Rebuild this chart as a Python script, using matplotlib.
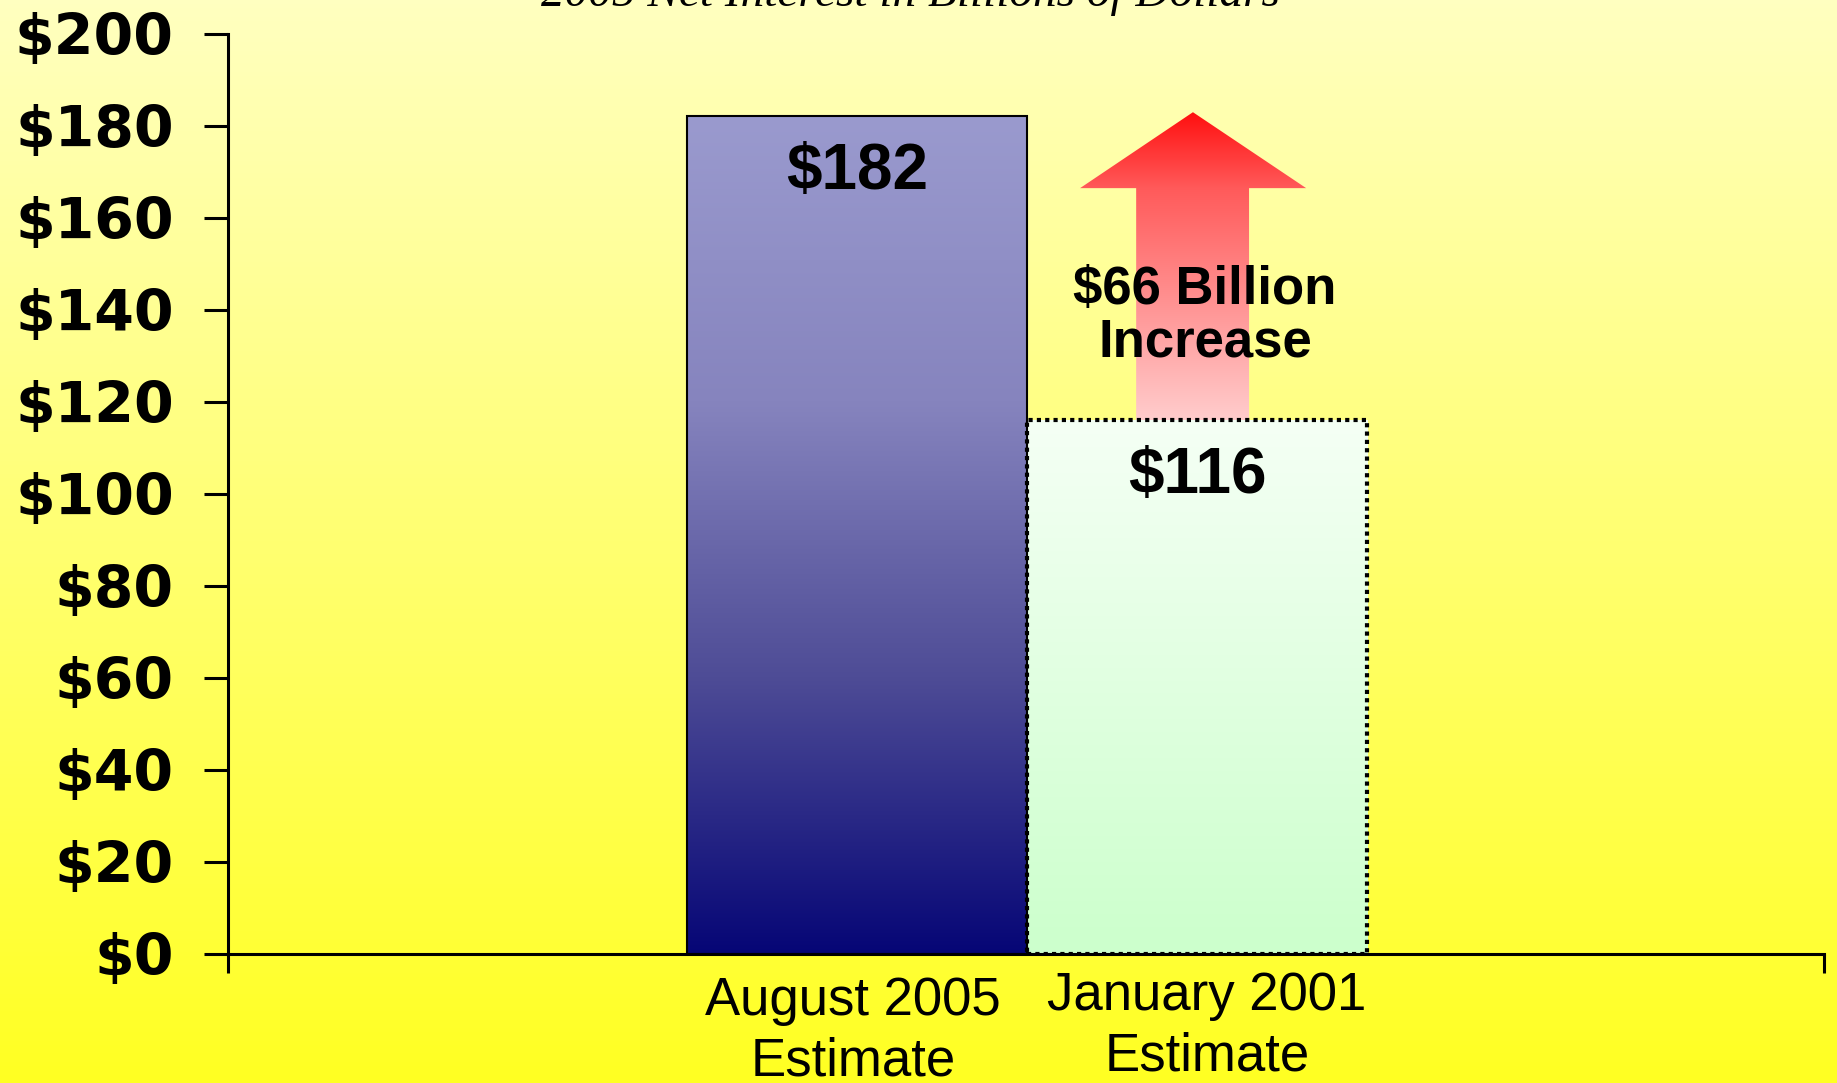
import numpy as np
import matplotlib
matplotlib.use("Agg")
import matplotlib.pyplot as plt
from matplotlib.patches import Rectangle, Polygon

# ── Data ─────────────────────────────────────────────────────────────────────
categories = ["August 2005\nEstimate", "January 2001\nEstimate"]
values = [182, 116]
value_labels = ["$182", "$116"]
increase_label = "$66 Billion\nIncrease"
title = "2005 Net Interest in Billions of Dollars"
yticks = [0, 20, 40, 60, 80, 100, 120, 140, 160, 180, 200]
ytick_labels = ["$" + str(v) for v in yticks]

W, H = 1837, 1083
fig = plt.figure(figsize=(W / 100, H / 100), dpi=100)

# ── Background gradient ──────────────────────────────────────────────────────
bg = fig.add_axes([0, 0, 1, 1], zorder=-5)
t = np.linspace(0, 1, 256)[:, None]
top_c = np.array([255, 255, 192]) / 255
bot_c = np.array([255, 255, 34]) / 255
grad = top_c * (1 - t[..., None]) + bot_c * t[..., None]
bg.imshow(np.repeat(grad, 2, axis=1), aspect="auto", extent=[0, 1, 0, 1])
bg.set_axis_off()

ax = fig.add_axes([228 / W, 1 - 954 / H, (1824 - 228) / W, (954 - 33.5) / H])
ax.set_facecolor("none")
ax.set_xlim(-1.85, 2.844)
ax.set_ylim(0, 200)


def vgrad(ax, x0, x1, y0, y1, stops, clip):
    # stops: list of (value, rgb) from bottom to top
    ys = np.linspace(y0, y1, 300)
    sv = [s[0] for s in stops]
    cols = np.stack([np.interp(ys, sv, [s[1][i] / 255 for s in stops]) for i in range(3)], axis=-1)
    img = ax.imshow(cols[:, None, :], extent=[x0, x1, y0, y1], origin="lower",
                    aspect="auto", zorder=2, interpolation="bilinear")
    img.set_clip_path(clip)
    return img


# blue bar
b0 = Rectangle((-0.5, 0), 1, values[0], facecolor="none", edgecolor="black", lw=1.5, zorder=3)
ax.add_patch(b0)
vgrad(ax, -0.5, 0.5, 0, values[0],
      [(0, (6, 6, 118)), (60, (78, 76, 150)), (120, (134, 132, 190)), (values[0], (154, 154, 206))], b0)

# green bar (dotted edge)
b1 = Rectangle((0.5, 0), 1, values[1], facecolor="none", edgecolor="black", lw=3.0,
               linestyle=(0, (1.0, 1.0)), zorder=3)
ax.add_patch(b1)
vgrad(ax, 0.5, 1.5, 0, values[1], [(0, (204, 255, 204)), (values[1], (245, 255, 245))], b1)

# increase arrow
cx, tip, head_base = 0.988, 182.9, 166.4
arrow = Polygon([(cx - 0.167, values[1]), (cx - 0.167, head_base), (cx - 0.332, head_base),
                 (cx, tip), (cx + 0.333, head_base), (cx + 0.165, head_base),
                 (cx + 0.165, values[1])], closed=True, facecolor="none", edgecolor="none", zorder=2)
ax.add_patch(arrow)
vgrad(ax, cx - 0.34, cx + 0.34, values[1], tip,
      [(values[1], (255, 204, 204)), (head_base, (255, 90, 90)), (tip, (255, 16, 16))], arrow)

# value labels
for i, (v, lab) in enumerate(zip(values, value_labels)):
    ax.annotate(lab, (i, v), xytext=(0, -40), textcoords="offset points", ha="center",
                va="center", fontsize=46, fontweight="bold", family="Liberation Sans", zorder=5)

ax.text(1.024, 138.6, increase_label, ha="center", va="center", fontsize=38,
        fontweight="bold", family="Liberation Sans", linespacing=1.06, zorder=5)

# category labels
label_tops = [976, 971]
label_shift = [-4, 10]
for i, lab in enumerate(categories):
    fig.text((228 + (i + 1.85) * 340 + label_shift[i]) / W, 1 - label_tops[i] / H, lab,
             ha="center", va="top", fontsize=38, family="Liberation Sans", linespacing=1.28)

# axes styling
for s in ["top", "right"]:
    ax.spines[s].set_visible(False)
for s in ["left", "bottom"]:
    ax.spines[s].set_linewidth(2.2)
ax.set_yticks(yticks)
ax.set_yticklabels(ytick_labels, fontsize=41, fontweight="bold", family="DejaVu Sans")
ax.tick_params(axis="y", length=17, width=2.2, pad=22)
ax.set_xticks(ax.get_xlim())
ax.set_xticklabels([])
ax.tick_params(axis="x", length=14, width=2.2)

fig.text(910 / W, 1 - 6 / H, title, ha="center", va="baseline", fontsize=34,
         fontstyle="italic", family="Liberation Serif")

fig.savefig("out.png", dpi=100)
